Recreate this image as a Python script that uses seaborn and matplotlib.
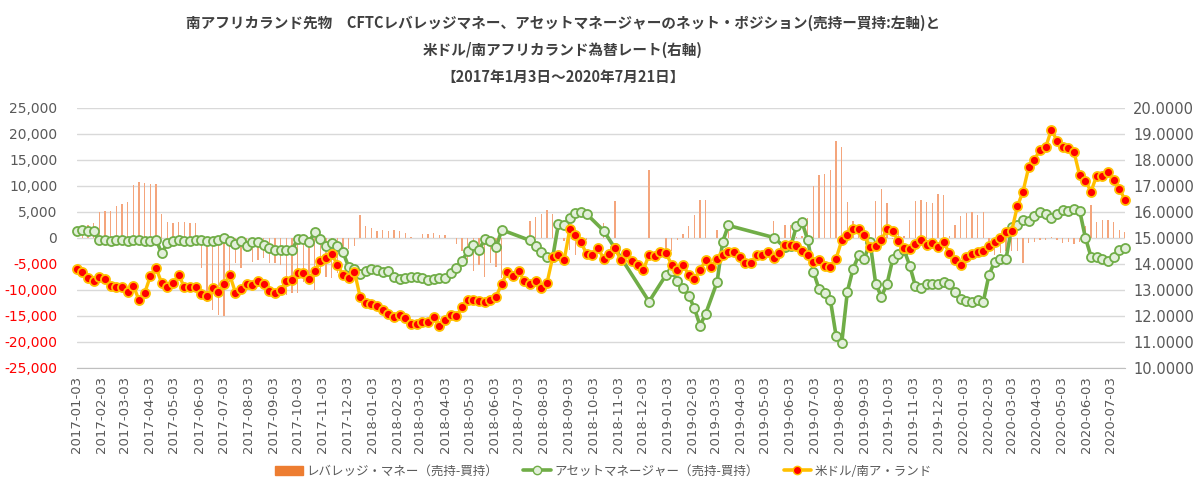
import numpy as np
import pandas as pd
import matplotlib
matplotlib.use("Agg")
import matplotlib.pyplot as plt
import matplotlib.dates as mdates
from matplotlib.ticker import FuncFormatter, MultipleLocator
from matplotlib.lines import Line2D
from matplotlib.patches import Patch
import seaborn as sns

nan = np.nan

# weekly data, 2017-01-03 .. 2020-07-21 (186 weeks)
start_date = "2017-01-03"
n_weeks = 186

# レバレッジ・マネー (売持-買持), left axis
leveraged = [
    800, 1800, 2500, 2900, 4940, 5070, 5070, 6160, 6550, 6870,
    10200, 10720, 10590, 10400, 10400, 4560, 3080, 2820, 2950, 2950,
    2820, 2820, -5840, -12390, -13870, -14830, -15020, -8410, -4880, -5840,
    -2820, -4560, -4240, -3920, -4880, -4880, -5200, -10980, -10660, -10660,
    -8410, -7130, -10020, -6800, -7450, -7770, -6800, -2630, -2120, -1480,
    4430, 2180, 1860, 1220, 1540, 1350, 1410, 1350, 900, 130,
    60, 700, 700, 960, 580, 510, 60, -1220, -2630, -4240,
    -6290, -5200, -7450, -4880, -5650, -7770, nan, nan, nan, nan,
    3150, 3980, 4620, 5390, 4620, -60, -580, -2310, -3400, -700,
    -390, nan, nan, 2820, nan, 7130, nan, nan, nan, nan,
    nan, 13100, nan, nan, -2630, -2630, -510, 700, 2310, 4300,
    7250, 7250, nan, 1540, -4500, 1220, nan, nan, nan, nan,
    nan, nan, nan, 3140, nan, 2400, 2500, 200, 300, 3790,
    9890, 12130, 12260, 12970, 18680, 17460, 6870, 3270, 1540, 1540,
    200, 7000, 9370, 6680, -300, 1030, 300, 3470, 7000, 7250,
    6870, 6680, 8470, 8150, 260, 2380, 4110, 4750, 4940, 4430,
    4940, -710, -3270, -2950, -2630, -2500, -2630, -4880, -1030, -710,
    -510, -390, 130, -510, -1030, -710, -1160, -710, 2180, 6360,
    2950, 3340, 3470, 2950, 1540, 1090,
]

# アセットマネージャー (売持-買持), left axis
asset_mgr = [
    1220, 1480, 1350, 1220, -510, -510, -580, -510, -510, -580,
    -510, -510, -580, -640, -450, -2950, -960, -580, -510, -700,
    -580, -510, -510, -700, -700, -450, 60, -700, -1220, -580,
    -1480, -770, -770, -1410, -2050, -2380, -2440, -2380, -2310, -190,
    -190, -710, 1030, -260, -1540, -1030, -1540, -2820, -5650, -5910,
    -6870, -6360, -6030, -6160, -6480, -6290, -7580, -7900, -7640, -7580,
    -7580, -7770, -8090, -7830, -7700, -7700, -6810, -5840, -4370, -2630,
    -1350, -2310, -260, -580, -1860, 1540, nan, nan, nan, nan,
    -510, -1540, -2760, -3720, -3700, 2630, 2380, 3790, 4690, 4940,
    4560, nan, nan, 1350, nan, -2050, nan, nan, nan, nan,
    nan, -12260, nan, nan, -7130, -6290, -8220, -9690, -11110, -13550,
    -16880, -14570, nan, -8540, -710, 2380, nan, nan, nan, nan,
    nan, nan, nan, 60, nan, -1860, -1670, 2180, 2950, -390,
    -6480, -9890, -10530, -11940, -18810, -20290, -10340, -5970, -3400, -4110,
    -710, -8860, -11300, -8860, -4110, -3100, -2300, -5330, -9240, -9570,
    -8860, -8920, -8860, -8410, -8920, -10340, -11750, -12130, -12260, -11880,
    -12260, -7130, -4560, -4110, -4040, 1990, 2380, 3470, 3270, 4110,
    4880, 4560, 3790, 4620, 5260, 5200, 5590, 5200, 60, -3600,
    -3720, -4040, -4370, -3720, -2440, -1990,
]

# 米ドル/南ア・ランド, right axis
usdzar = [
    13.81, 13.68, 13.47, 13.32, 13.51, 13.42, 13.16, 13.10, 13.10, 12.93,
    13.15, 12.59, 12.89, 13.54, 13.83, 13.25, 13.09, 13.25, 13.57, 13.09,
    13.10, 13.10, 12.83, 12.77, 13.06, 12.93, 13.22, 13.57, 12.89, 13.04,
    13.23, 13.19, 13.32, 13.22, 12.96, 12.88, 13.01, 13.32, 13.38, 13.64,
    13.64, 13.43, 13.73, 14.11, 14.22, 14.38, 13.96, 13.57, 13.45, 13.70,
    12.73, 12.50, 12.44, 12.37, 12.24, 12.06, 11.96, 12.02, 11.91, 11.70,
    11.70, 11.78, 11.78, 11.97, 11.62, 11.82, 12.03, 11.98, 12.34, 12.62,
    12.62, 12.55, 12.52, 12.62, 12.74, 13.23, 13.69, 13.54, 13.72, 13.32,
    13.23, 13.34, 13.07, 13.28, 14.26, 14.32, 14.13, 15.32, 15.12, 14.83,
    14.36, 14.35, 14.60, 14.19, 14.38, 14.60, 14.15, 14.43, 14.11, 13.96,
    13.77, 14.35, 14.31, 14.47, 14.41, 13.96, 13.77, 13.96, 13.58, 13.41,
    13.77, 14.13, 13.87, 14.19, 14.32, 14.45, 14.45, 14.26, 14.05, 14.05,
    14.32, 14.32, 14.47, 14.22, 14.40, 14.73, 14.72, 14.69, 14.51, 14.32,
    14.06, 14.13, 13.93, 13.87, 14.19, 14.90, 15.12, 15.35, 15.35, 15.12,
    14.64, 14.70, 14.90, 15.35, 15.27, 14.86, 14.60, 14.58, 14.77, 14.92,
    14.73, 14.79, 14.64, 14.83, 14.41, 14.15, 13.96, 14.28, 14.38, 14.45,
    14.51, 14.67, 14.82, 15.01, 15.22, 15.27, 16.21, 16.78, 17.71, 18.00,
    18.39, 18.48, 19.16, 18.74, 18.49, 18.45, 18.30, 17.40, 17.20, 16.78,
    17.39, 17.39, 17.53, 17.21, 16.89, 16.46,
]

title_lines = [
    "南アフリカランド先物　CFTCレバレッジマネー、アセットマネージャーのネット・ポジション(売持ー買持:左軸)と",
    "米ドル/南アフリカランド為替レート(右軸)",
    "【2017年1月3日～2020年7月21日】",
]
legend_labels = [
    "レバレッジ・マネー（売持-買持）",
    "アセットマネージャー（売持-買持）",
    "米ドル/南ア・ランド",
]

dates = pd.date_range(start_date, periods=n_weeks, freq="7D")
df = pd.DataFrame({"date": dates, "lev": leveraged, "asset": asset_mgr, "fx": usdzar})

sns.set_style("white")
plt.rcParams["font.family"] = ["Noto Sans CJK JP", "DejaVu Sans"]

grey = "#595959"
bar_col = "#F4A57C"
green = "#70AD47"
yellow = "#FFC000"

fig = plt.figure(figsize=(12, 4.97), dpi=100)
ax = fig.add_axes([0.064, 0.26, 0.8735, 0.523])
ax2 = ax.twinx()

# bars + asset manager line on the left axis
ax.bar(df["date"], df["lev"], width=1.6, color=bar_col, linewidth=0, zorder=2)
asset_df = df.dropna(subset=["asset"])
sns.lineplot(data=asset_df, x="date", y="asset", ax=ax, color=green, linewidth=2.6,
             marker="o", markersize=6.5, markerfacecolor="#E2EFDA",
             markeredgecolor=green, markeredgewidth=1.3, zorder=3, clip_on=False)

# exchange rate on the right axis
sns.lineplot(data=df, x="date", y="fx", ax=ax2, color=yellow, linewidth=2.4,
             marker="o", markersize=6.5, markerfacecolor="#FF0000",
             markeredgecolor=yellow, markeredgewidth=1.3, clip_on=False)

ax.set_ylim(-25000, 25000)
ax.yaxis.set_major_locator(MultipleLocator(5000))
ax.yaxis.set_major_formatter(FuncFormatter(lambda v, p: f"{v:,.0f}"))
ax2.set_ylim(10, 20)
ax2.yaxis.set_major_locator(MultipleLocator(1))
ax2.yaxis.set_major_formatter(FuncFormatter(lambda v, p: f"{v:.4f}"))

ax.set_xlim(pd.Timestamp("2017-01-03"), pd.Timestamp("2020-07-21"))
ax.xaxis.set_major_locator(mdates.MonthLocator(bymonthday=3))
ax.xaxis.set_major_formatter(mdates.DateFormatter("%Y-%m-%d"))

ax.grid(axis="y", color="#D9D9D9", linewidth=1)
ax.grid(axis="x", visible=False)
ax.set_axisbelow(True)
ax2.grid(False)

for s in ["top", "left", "right"]:
    ax.spines[s].set_visible(False)
for s in ax2.spines.values():
    s.set_visible(False)
ax.spines["bottom"].set_color("#BFBFBF")

ax.tick_params(axis="x", direction="out", length=4, color="#BFBFBF",
               labelcolor=grey, labelsize=9.5, labelrotation=90, pad=2,
               labelfontfamily="DejaVu Sans")
ax.tick_params(axis="y", length=0, labelsize=10, labelcolor=grey, pad=14,
               labelfontfamily="DejaVu Sans")
ax2.tick_params(axis="y", length=0, labelsize=10.5, labelcolor=grey, pad=6,
                labelfontfamily="DejaVu Sans")

for lbl, v in zip(ax.get_yticklabels(), ax.get_yticks()):
    if v < 0:
        lbl.set_color("#FF0000")

ax.set_xlabel("")
ax.set_ylabel("")
ax2.set_ylabel("")

ys = [0.954, 0.899, 0.845]
for t, y in zip(title_lines, ys):
    fig.text(0.469, y, t, ha="center", va="center", fontsize=10.5,
             fontweight="bold", color="#404040")

handles = [
    Patch(facecolor="#ED7D31", edgecolor="#ED7D31"),
    Line2D([], [], color=green, linewidth=2.6, marker="o", markersize=6,
           markerfacecolor="#E2EFDA", markeredgecolor=green),
    Line2D([], [], color=yellow, linewidth=2.6, marker="o", markersize=6,
           markerfacecolor="#FF0000", markeredgecolor=yellow),
]
leg = fig.legend(handles, legend_labels, loc="center", bbox_to_anchor=(0.503, 0.052),
                 ncol=3, frameon=False, fontsize=9, columnspacing=2.0,
                 handlelength=2.2, handletextpad=0.3)
for t in leg.get_texts():
    t.set_color(grey)

fig.savefig("out.png", dpi=100)
